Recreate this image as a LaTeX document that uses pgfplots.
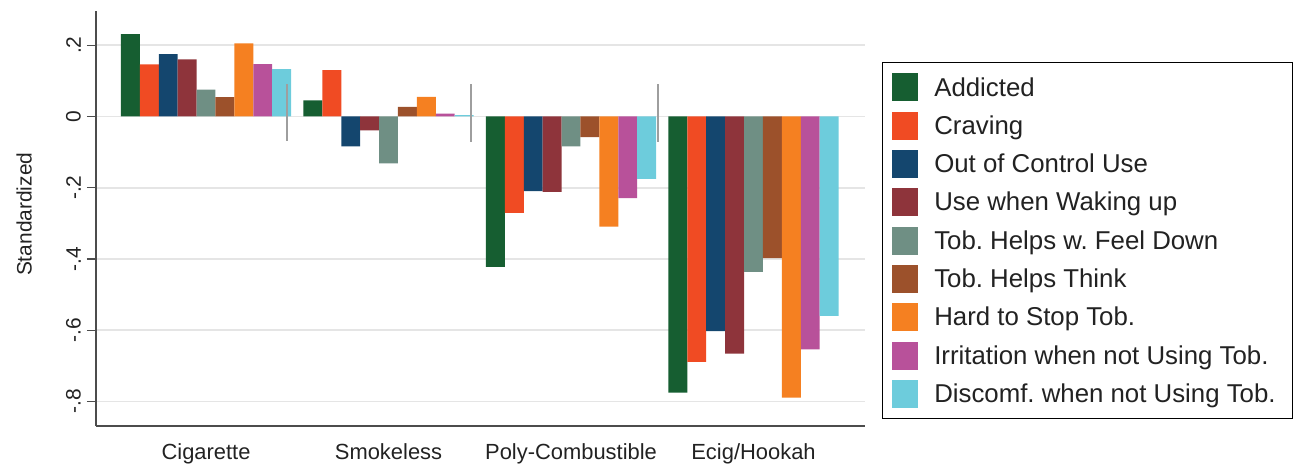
\documentclass[border=0pt]{standalone}
\usepackage{pgfplots}
\usepackage{pgfplotstable}
\pgfplotsset{compat=1.18}
\usepackage{fontspec}
\setmainfont{Liberation Sans}
\frenchspacing

\definecolor{cA}{HTML}{165E31}
\definecolor{cB}{HTML}{F04B23}
\definecolor{cC}{HTML}{14466E}
\definecolor{cD}{HTML}{8E343B}
\definecolor{cE}{HTML}{6F8F84}
\definecolor{cF}{HTML}{9C512B}
\definecolor{cG}{HTML}{F58021}
\definecolor{cH}{HTML}{B8519A}
\definecolor{cI}{HTML}{6DCCDC}
\definecolor{txt}{HTML}{222222}

\pgfplotstableread{
x  A      B      C      D      E      F      G      H      I
0  0.231  0.146  0.175  0.160  0.075  0.054  0.205  0.147  0.133
1  0.045  0.130 -0.084 -0.039 -0.132  0.027  0.055  0.008  0.004
2 -0.422 -0.271 -0.210 -0.212 -0.084 -0.058 -0.309 -0.229 -0.175
3 -0.775 -0.689 -0.603 -0.666 -0.436 -0.398 -0.789 -0.654 -0.560
}\datatable

\begin{document}
\begin{tikzpicture}
\useasboundingbox (0,0) rectangle (1295bp,464bp);
\begin{axis}[
  at={(96bp,38bp)}, anchor=south west,
  scale only axis, width=769bp, height=415bp,
  xmin=-0.603, xmax=3.611, ymin=-0.869, ymax=0.296,
  axis x line*=bottom, axis y line*=left,
  axis line style={-, line width=1.3bp, color=black!70},
  xtick={0,1,2,3},
  xticklabels={Cigarette,Smokeless,Poly-Combustible,Ecig/Hookah},
  x tick style={draw=none},
  xticklabel style={font=\fontsize{22}{26}\selectfont, text=txt, inner sep=0pt},
  xticklabel shift=8bp,
  ytick={-0.8,-0.6,-0.4,-0.2,0,0.2},
  yticklabels={-.8,-.6,-.4,-.2,0,.2},
  yticklabel style={rotate=90, anchor=south, font=\fontsize{21}{25}\selectfont, text=txt, inner sep=0pt},
  yticklabel shift=6bp,
  tick align=outside, major tick length=9bp,
  y tick style={line width=1.3bp, color=black!70},
  ymajorgrids, grid style={line width=1.8bp, color=black!10},
  ylabel={Standardized},
  ylabel style={at={(axis description cs:-0.0936,0.51)}, anchor=center, font=\fontsize{21}{25}\selectfont, text=txt},
  legend style={at={(1.022,0.877)}, anchor=north west, draw=black, line width=0.8bp,
    inner xsep=10bp, inner ysep=11bp, row sep=10.3bp,
    font=\fontsize{25.9}{30}\selectfont, text=txt,
    nodes={inner xsep=7pt, inner ysep=0pt},
    /tikz/every odd column/.append style={column sep=9bp}},
  legend cell align=left,
  every axis plot post/.append style={legend image code/.code={\path[#1,draw=none] (0bp,-14bp) rectangle (26bp,14bp);}},
  mybar/.style={ybar, bar width=0.1036, bar shift=0pt, fill=#1, draw=none},
]
\addplot[mybar=cA] table[x expr=\thisrow{x}-0.4144, y=A] {\datatable};
\addlegendentry{Addicted}
\addplot[mybar=cB] table[x expr=\thisrow{x}-0.3108, y=B] {\datatable};
\addlegendentry{Craving}
\addplot[mybar=cC] table[x expr=\thisrow{x}-0.2072, y=C] {\datatable};
\addlegendentry{Out of Control Use}
\addplot[mybar=cD] table[x expr=\thisrow{x}-0.1036, y=D] {\datatable};
\addlegendentry{Use when Waking up}
\addplot[mybar=cE] table[x expr=\thisrow{x}, y=E] {\datatable};
\addlegendentry{Tob. Helps w. Feel Down}
\addplot[mybar=cF] table[x expr=\thisrow{x}+0.1036, y=F] {\datatable};
\addlegendentry{Tob. Helps Think}
\addplot[mybar=cG] table[x expr=\thisrow{x}+0.2072, y=G] {\datatable};
\addlegendentry{Hard to Stop Tob.}
\addplot[mybar=cH] table[x expr=\thisrow{x}+0.3108, y=H] {\datatable};
\addlegendentry{Irritation when not Using Tob.}
\addplot[mybar=cI] table[x expr=\thisrow{x}+0.4144, y=I] {\datatable};
\addlegendentry{Discomf. when not Using Tob.}
\addplot[forget plot, color=black!38, line width=1.6bp] coordinates {(0.444,0.09) (0.444,-0.07)};
\addplot[forget plot, color=black!38, line width=1.6bp] coordinates {(1.452,0.09) (1.452,-0.072)};
\addplot[forget plot, color=black!38, line width=1.6bp] coordinates {(2.477,0.09) (2.477,-0.072)};
\end{axis}
\end{tikzpicture}
\end{document}
